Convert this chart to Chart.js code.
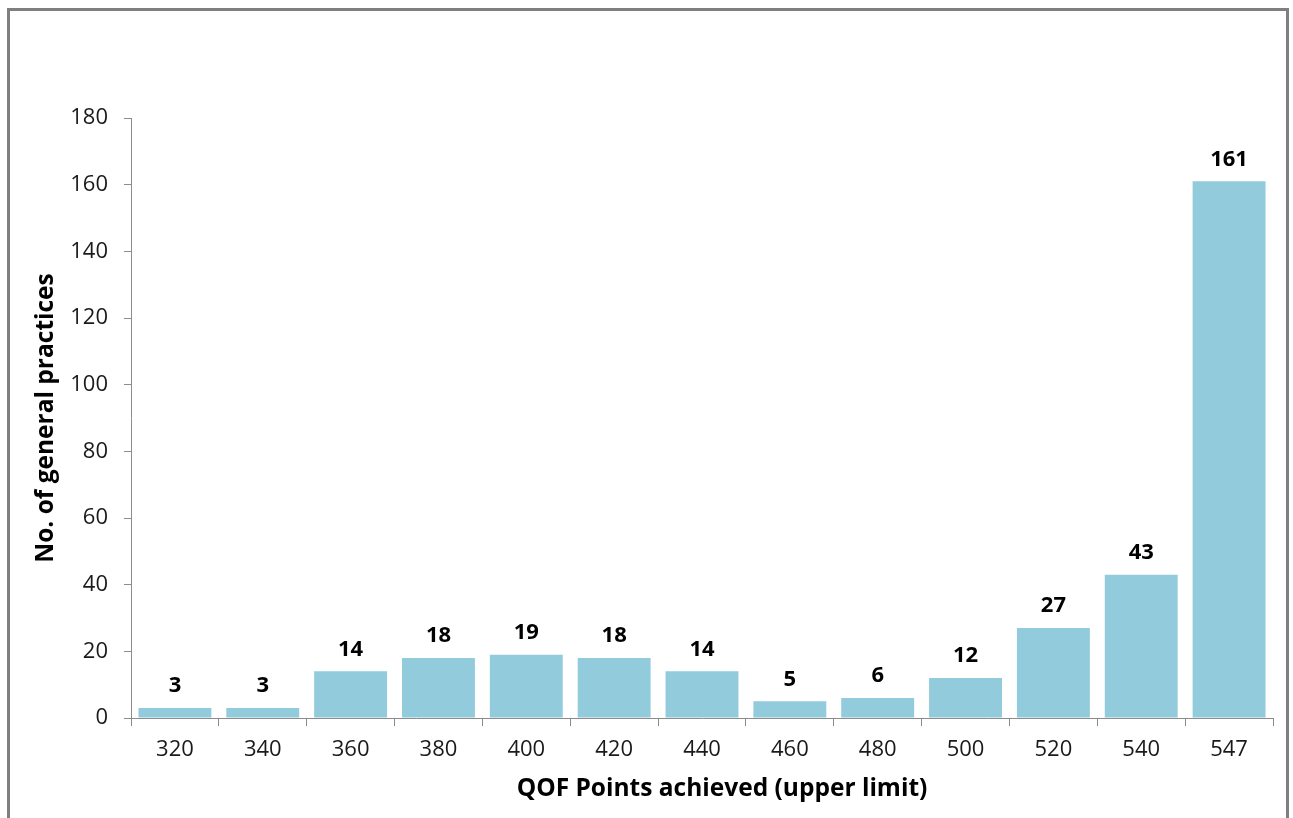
<!DOCTYPE html>
<html>
<head>
<meta charset="utf-8">
<script src="https://cdn.jsdelivr.net/npm/chart.js@4"></script>
<style>
  html, body { margin: 0; padding: 0; background: #ffffff; overflow: hidden; }
  #frame {
    position: absolute; left: 7px; top: 8px; width: 1276px; height: 840px;
    border: 3px solid #7f7f7f; box-sizing: content-box;
  }
  #wrap { position: absolute; left: 0; top: 0; width: 1293px; height: 818px; }
</style>
</head>
<body>
<div id="frame"></div>
<div id="wrap"><canvas id="c" width="1293" height="818"></canvas></div>
<script>
// QOF points bands (upper limit of each band) and number of practices in each
const categories = ['320', '340', '360', '380', '400', '420', '440', '460', '480', '500', '520', '540', '547'];
const practices = [3, 3, 14, 18, 19, 18, 14, 5, 6, 12, 27, 43, 161];
const yTicks = [0, 20, 40, 60, 80, 100, 120, 140, 160, 180];
const xTitle = 'QOF Points achieved (upper limit)';
const yTitle = 'No. of general practices';

const FONT = "'Open Sans', 'Liberation Sans', sans-serif";

// Bold value written above each bar, plus the horizontal axis title
const valueLabels = {
  id: 'valueLabels',
  afterDatasetsDraw(chart) {
    const ctx = chart.ctx;
    const meta = chart.getDatasetMeta(0);
    ctx.save();
    ctx.font = "bold 22px " + FONT;
    ctx.fillStyle = '#000000';
    ctx.textAlign = 'center';
    ctx.textBaseline = 'middle';
    meta.data.forEach((bar, i) => {
      ctx.fillText(String(practices[i]), bar.x, bar.y - 22);
    });
    ctx.restore();
  },
  afterDraw(chart) {
    const ctx = chart.ctx;
    const xs = chart.scales.x;
    ctx.save();
    ctx.font = "bold 24.5px " + FONT;
    ctx.fillStyle = '#000000';
    ctx.textAlign = 'center';
    ctx.textBaseline = 'middle';
    ctx.fillText(xTitle, (xs.left + xs.right) / 2 + 20, xs.bottom - 29);
    ctx.restore();
  }
};

new Chart(document.getElementById('c'), {
  type: 'bar',
  data: {
    labels: categories,
    datasets: [{
      data: practices,
      backgroundColor: '#92cbdc',
      borderWidth: 0,
      categoryPercentage: 1.0,
      barPercentage: 0.83
    }]
  },
  options: {
    responsive: false,
    animation: false,
    devicePixelRatio: 1,
    layout: { padding: { left: 0, right: 20, top: 118, bottom: 0 } },
    plugins: {
      legend: { display: false },
      tooltip: { enabled: false }
    },
    scales: {
      x: {
        offset: true,
        grid: {
          offset: true,
          drawOnChartArea: false,
          drawTicks: true,
          tickLength: 8,
          tickColor: '#8c8c8c',
          tickWidth: 1
        },
        border: { display: true, color: '#8c8c8c', width: 1 },
        ticks: {
          color: '#1a1a1a',
          font: { family: FONT, size: 22 },
          padding: 11,
          maxRotation: 0
        },
        title: { display: false },
        afterFit(scale) { scale.height = 100; }
      },
      y: {
        min: 0,
        max: 180,
        afterBuildTicks(scale) { scale.ticks = yTicks.map(v => ({ value: v })); },
        grid: {
          drawOnChartArea: false,
          drawTicks: true,
          tickLength: 7,
          tickColor: '#8c8c8c',
          tickWidth: 1
        },
        border: { display: true, color: '#8c8c8c', width: 1 },
        ticks: {
          color: '#1a1a1a',
          font: { family: FONT, size: 22 },
          padding: 16
        },
        title: {
          display: true,
          text: yTitle,
          color: '#000000',
          font: { family: FONT, size: 24.5, weight: 'bold' },
          padding: { top: 31, bottom: 0 }
        },
        afterFit(scale) { scale.width = 131; }
      }
    }
  },
  plugins: [valueLabels]
});
</script>
</body>
</html>
